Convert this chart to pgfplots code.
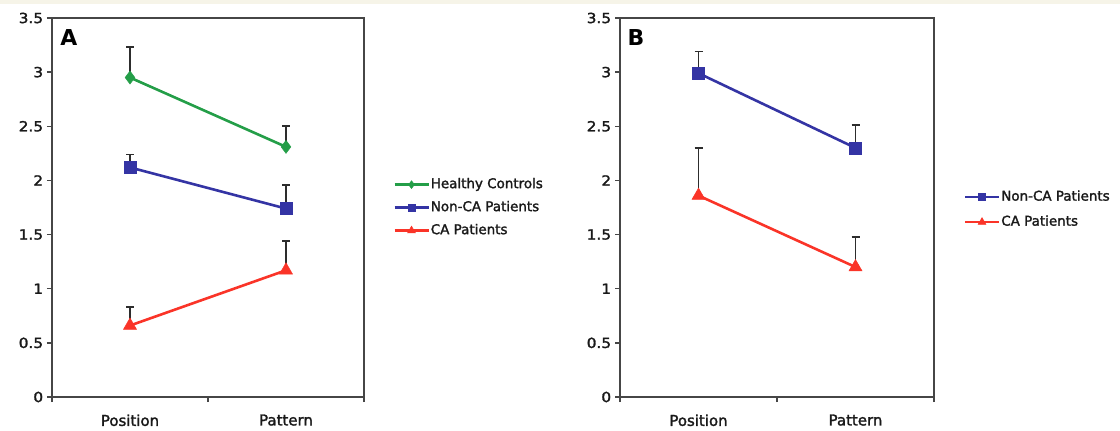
\documentclass[border=0pt]{standalone}
\usepackage{pgfplots}
\pgfplotsset{compat=1.18}
\usepackage{fontspec}
\setmainfont{DejaVu Sans}
\newfontfamily\semib{DejaVu Sans}[FakeBold=1.8]
\definecolor{cgreen}{RGB}{36,158,72}
\definecolor{cblue}{RGB}{52,52,164}
\definecolor{cred}{RGB}{250,52,40}
\definecolor{cframe}{RGB}{70,70,70}
\definecolor{cerr}{RGB}{45,45,45}
\definecolor{ccream}{RGB}{246,244,232}
\pgfplotsset{
  panel/.style={
    scale only axis, height=379bp,
    anchor=south west,
    xmin=-0.5, xmax=1.5, ymin=0, ymax=3.5,
    ytick={0,0.5,...,3.5},
    xtick={0,1}, xticklabels={Position,Pattern},
    minor xtick={-0.5,0.5,1.5},
    major x tick style={draw=none},
    tick align=outside, xtick pos=left, ytick pos=left,
    major tick length=5bp, minor tick length=5bp,
    every tick/.style={cframe, line width=1.3bp},
    axis line style={cframe, line width=1.5bp},
    /pgf/number format/assume math mode=true,
    yticklabel style={font=\semib\fontsize{14}{16}\selectfont, text=black!90, xscale=1.1},
    xticklabel style={font=\semib\fontsize{15}{17}\selectfont, text=black!90, yshift=-9bp},
    legend cell align=left,
    legend style={draw=none, fill=none, inner sep=0pt, column sep=0bp,
      font=\semib\fontsize{13.5}{15}\selectfont,
      nodes={text height=10bp, text depth=3bp, inner ysep=0pt, inner xsep=1bp, text=black!90}},
    legend image code/.code={\draw[mark repeat=2, mark phase=2, #1, every mark/.append style={scale=0.6}] plot coordinates {(0bp,0bp) (17bp,0bp) (34bp,0bp)};},
    clip=false,
  },
  eb/.style={error bars/.cd, y dir=plus, y explicit,
    error bar style={cerr, line width=1.8bp},
    error mark=|,
    error mark options={cerr, line width=1.8bp, mark size=4bp}},
  sg/.style={cgreen, line width=2.6bp, mark=diamond*, mark size=6.5bp, mark options={fill=cgreen, draw=cgreen, line width=0.5bp}},
  sb/.style={cblue, line width=2.6bp, mark=square*, mark size=6bp, mark options={fill=cblue, draw=cblue, line width=0.5bp}},
  sr/.style={cred, line width=2.6bp, mark=triangle*, mark size=7.5bp, mark options={fill=cred, draw=cred, line width=0.5bp}},
}
\begin{document}
\begin{tikzpicture}
\useasboundingbox (0bp,0bp) rectangle (1120bp,431bp);
\fill[ccream] (0bp,427bp) rectangle (1120bp,431bp);
\begin{axis}[panel, width=312bp, at={(52bp,34bp)},
  legend style={at={(1.093,0.578)}, anchor=north west, row sep=10bp}]
\addplot+[sg, eb] coordinates {(0,2.95) +- (0,0.28) (1,2.31) +- (0,0.19)};
\addlegendentry{Healthy Controls}
\addplot+[sb, eb] coordinates {(0,2.12) +- (0,0.12) (1,1.74) +- (0,0.22)};
\addlegendentry{Non-CA Patients}
\addplot+[sr, eb] coordinates {(0,0.66) +- (0,0.17) (1,1.17) +- (0,0.27)};
\addlegendentry{CA Patients}
\node[anchor=north west, font=\bfseries\fontsize{22}{24}\selectfont, inner sep=0pt] at (rel axis cs:0.026,0.97) {A};
\end{axis}
\begin{axis}[panel, width=314bp, at={(620bp,34bp)},
  legend style={at={(1.094,0.545)}, anchor=north west, row sep=12bp}]
\addplot+[sb, eb] coordinates {(0,2.99) +- (0,0.20) (1,2.30) +- (0,0.21)};
\addlegendentry{Non-CA Patients}
\addplot+[sr, eb] coordinates {(0,1.86) +- (0,0.44) (1,1.20) +- (0,0.28)};
\addlegendentry{CA Patients}
\node[anchor=north west, font=\bfseries\fontsize{22}{24}\selectfont, inner sep=0pt] at (rel axis cs:0.024,0.97) {B};
\end{axis}
\end{tikzpicture}
\end{document}
